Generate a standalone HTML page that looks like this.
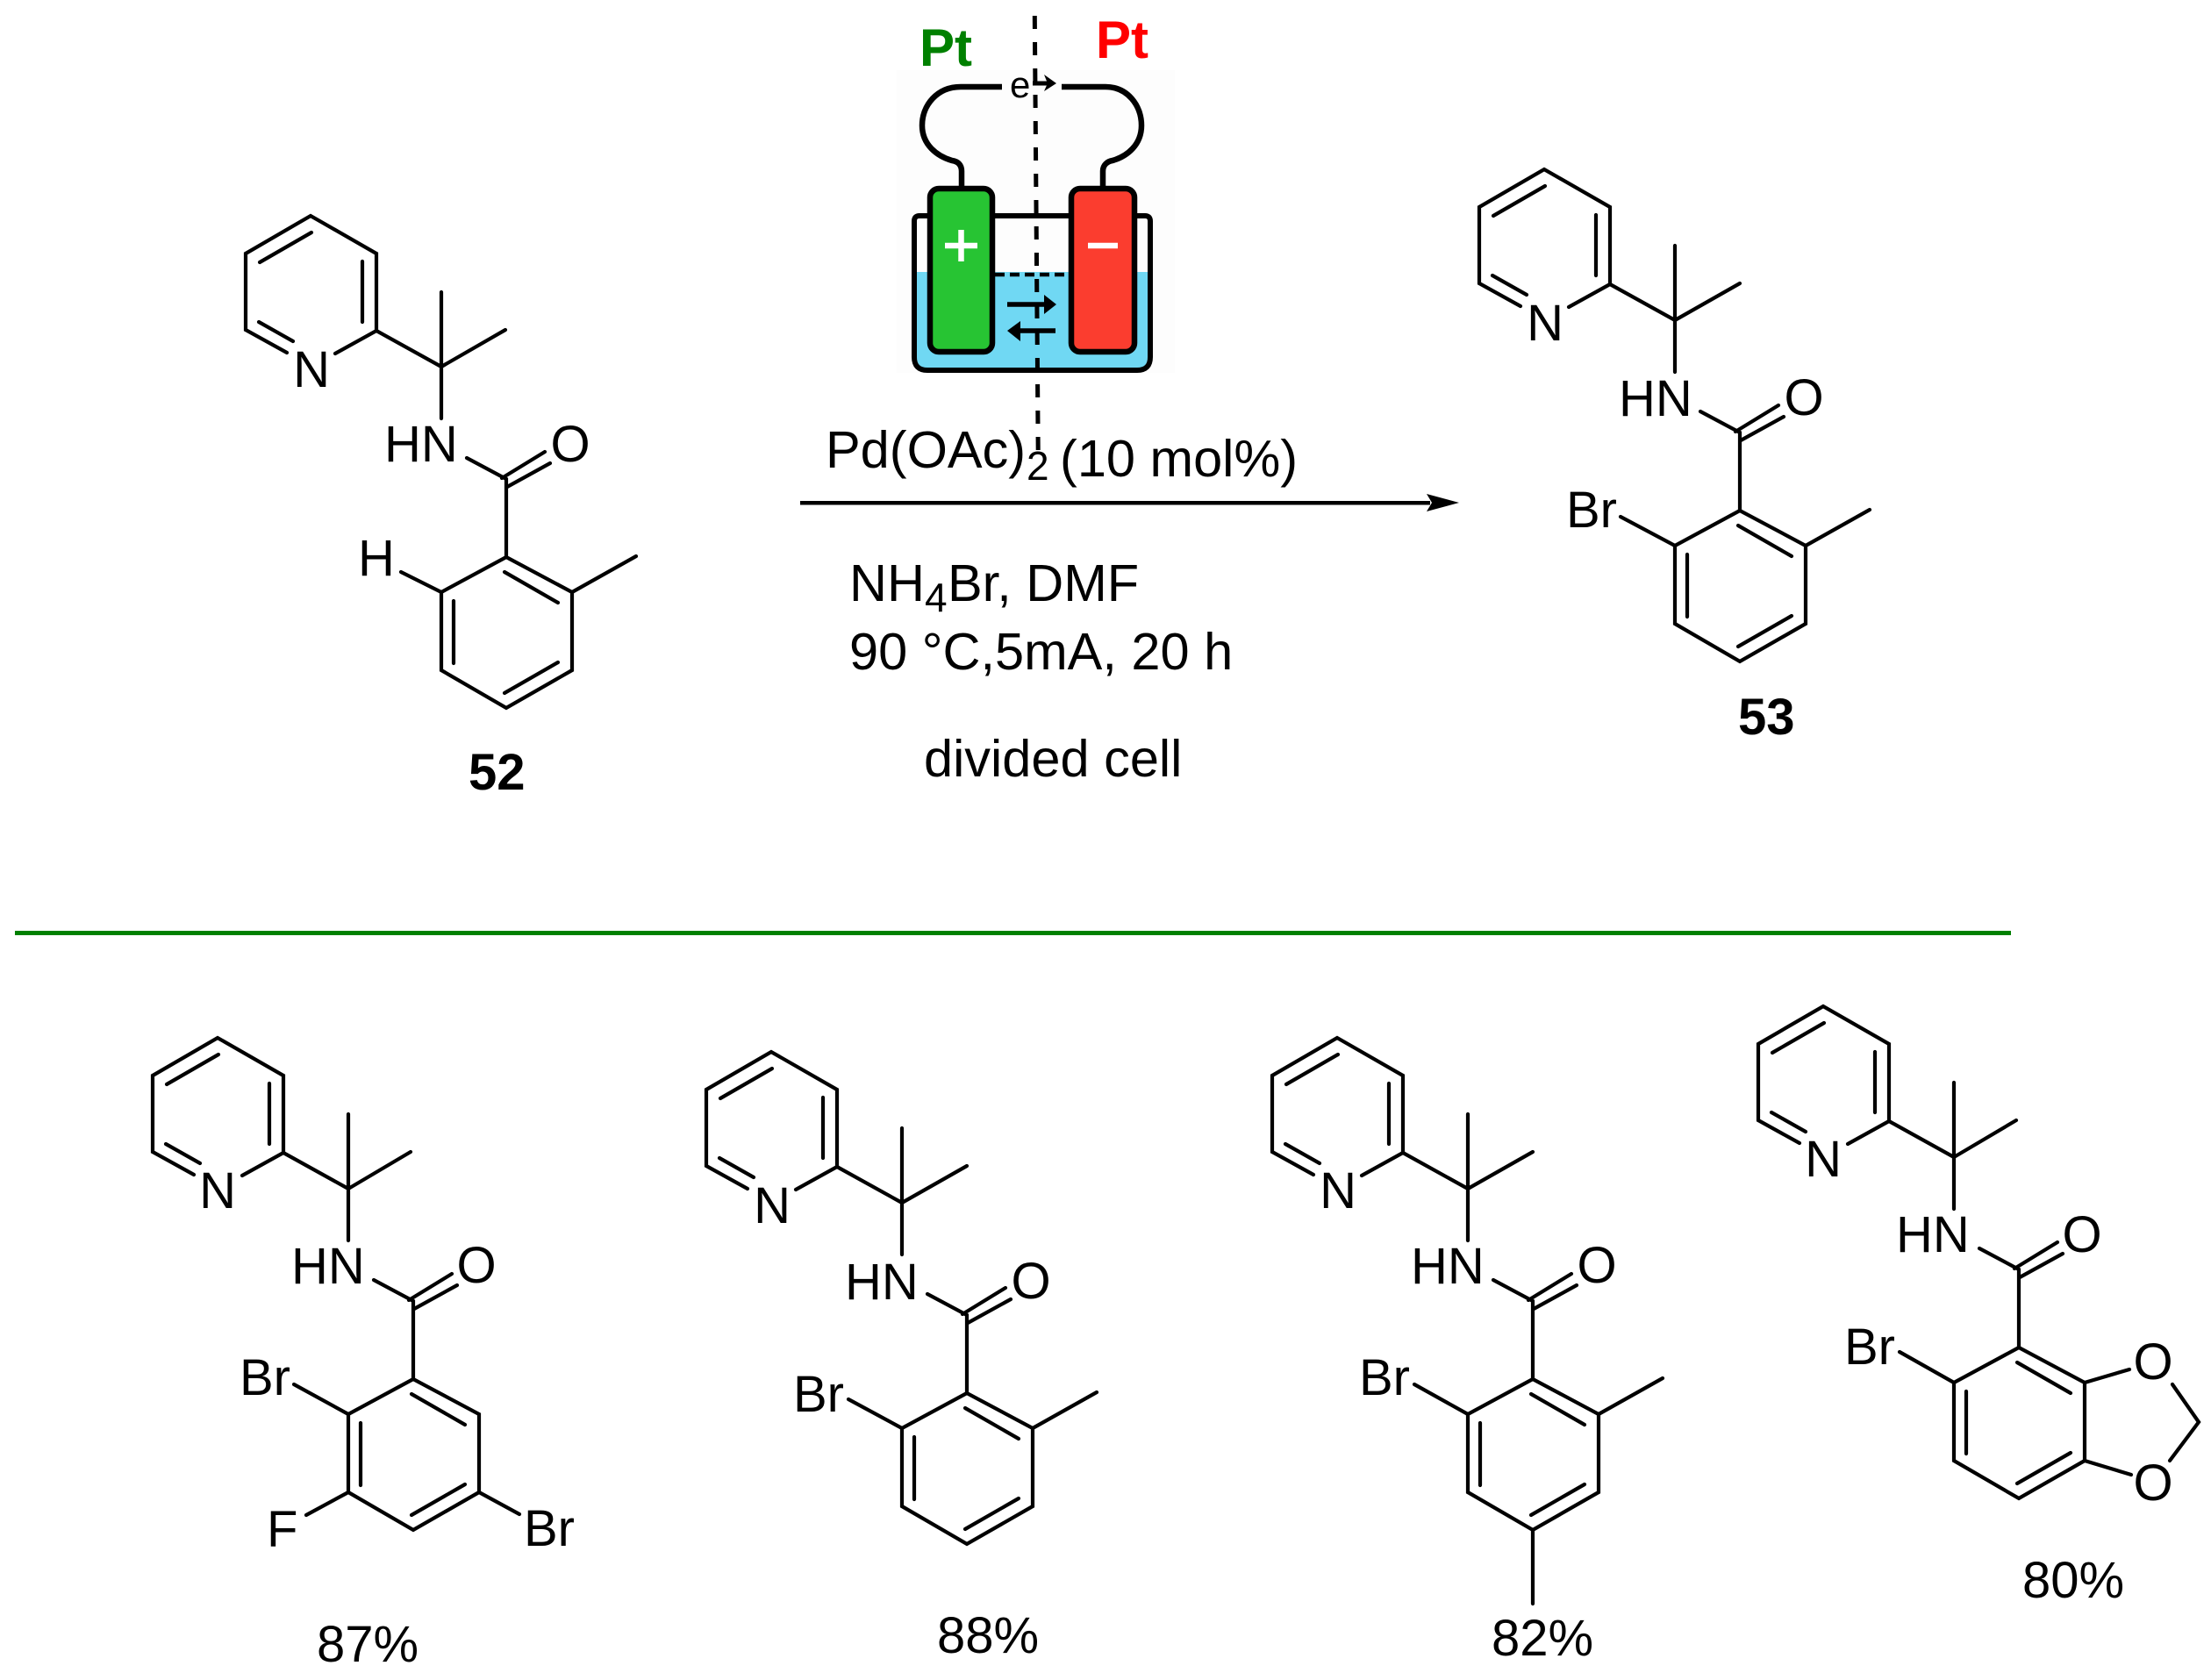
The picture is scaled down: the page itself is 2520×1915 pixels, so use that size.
<!DOCTYPE html>
<html>
<head>
<meta charset="utf-8">
<style>
html,body{margin:0;padding:0;background:#fff;width:2520px;height:1915px;overflow:hidden}
svg{display:block}
text{font-family:"Liberation Sans",sans-serif;font-size:58px;fill:#000}
.b{font-weight:bold}
.m{text-anchor:middle}
.r{font-size:59.5px}
.s{font-size:46px}
.bond{stroke:#000;stroke-width:4.2;stroke-linecap:round;stroke-linejoin:miter;fill:none}
</style>
</head>
<body>
<svg width="2520" height="1915" viewBox="0 0 2520 1915" xmlns="http://www.w3.org/2000/svg">
<defs>
<g id="core" class="bond">
  <path d="M-176 -16L-223 -42V-129L-149 -172L-74 -129V-41L-121 -15"/>
  <path d="M-208 -51L-169 -29M-90 -120V-51M-207 -119L-148 -153"/>
  <path d="M-74 -41L0 0M0 -85V59"/>
  <path d="M29 104L74 128V217M69 127L118 97M75 137L124 110"/>
  <path d="M74 217L0 257V346L74 389L149 346V257Z"/>
  <path d="M72 234L133 269M14 267V338M72 372L133 337"/>
</g>
</defs>
<rect width="2520" height="1915" fill="#fff"/>

<!-- 52 -->
<g transform="translate(503 418)">
  <use href="#core"/>
  <path class="bond" d="M0 0L73 -42M-46 234L0 257M149 257L222 216"/>
  <text class="m" x="-148" y="23">N</text>
  <text x="-65" y="108">HN</text>
  <text class="m" x="147" y="108">O</text>
  <text x="-95" y="238">H</text>
</g>
<text class="b" x="534" y="900">52</text>

<!-- 53 -->
<g transform="translate(1909 365)">
  <use href="#core"/>
  <path class="bond" d="M0 0L74 -42M-62 224L0 257M149 257L222 216"/>
  <text class="m" x="-148" y="23">N</text>
  <text x="-64" y="109">HN</text>
  <text class="m" x="147" y="108">O</text>
  <text x="-124" y="236">Br</text>
</g>
<text class="b" x="1981" y="837">53</text>

<!-- 87 -->
<g transform="translate(397 1355)">
  <use href="#core"/>
  <path class="bond" d="M0 0L71 -42M-62 223L0 257M0 346L-48 372M149 346L195 371"/>
  <text class="m" x="-149" y="22">N</text>
  <text x="-65" y="108">HN</text>
  <text class="m" x="146" y="107">O</text>
  <text x="-124" y="235">Br</text>
  <text x="-93" y="408">F</text>
  <text x="200" y="407">Br</text>
</g>
<text x="361" y="1894">87%</text>

<!-- 88 -->
<g transform="translate(1028 1371)">
  <use href="#core"/>
  <path class="bond" d="M0 0L74 -42M-61 224L0 257M149 257L222 216"/>
  <text class="m" x="-148" y="23">N</text>
  <text x="-65" y="110">HN</text>
  <text class="m" x="147" y="109">O</text>
  <text x="-124" y="238">Br</text>
</g>
<text x="1068" y="1884">88%</text>

<!-- 82 -->
<g transform="translate(1673 1355)">
  <use href="#core"/>
  <path class="bond" d="M0 0L74 -42M-61 223L0 257M149 257L222 216M74 389V473"/>
  <text class="m" x="-148" y="22">N</text>
  <text x="-65" y="108">HN</text>
  <text class="m" x="147" y="107">O</text>
  <text x="-124" y="235">Br</text>
</g>
<text x="1700" y="1887">82%</text>

<!-- 80 -->
<g transform="translate(2227 1319)">
  <use href="#core"/>
  <path class="bond" d="M0 0L71 -42M-62 222L0 257M149 257L200 242M149 346L202 362M249 259L279 302L246 346"/>
  <text class="m" x="-149" y="22">N</text>
  <text x="-66" y="108">HN</text>
  <text class="m" x="146" y="108">O</text>
  <text x="-125" y="236">Br</text>
  <text class="m" x="227" y="253">O</text>
  <text class="m" x="227" y="391">O</text>
</g>
<text x="2305" y="1821">80%</text>

<!-- separator -->
<rect x="17" y="1061" width="2275" height="5" fill="#008000"/>

<!-- reaction arrow -->
<rect x="912" y="571" width="718" height="4.5" fill="#000"/>
<path d="M1663 573L1626 563L1632 573L1626 583Z" fill="#000"/>

<!-- reagents -->
<text class="r" x="941" y="533">Pd(OAc)</text>
<text class="s" x="1170" y="547">2</text>
<text class="r" x="1208" y="543">(10 mol%)</text>
<text class="r" x="968" y="685">NH</text>
<text class="s" x="1054" y="697">4</text>
<text class="r" x="1080" y="685">Br, DMF</text>
<text class="r" x="968" y="763">90 °C,5mA, 20 h</text>
<text class="r" x="1053" y="885">divided cell</text>

<!-- cell -->
<rect x="1022" y="80" width="317" height="345" fill="#fdfdfd"/>
<path d="M1045 310H1308V407Q1308 420 1295 420H1058Q1045 420 1045 407Z" fill="#70d8f3"/>
<path d="M1060 246H1048Q1042 246 1042 252V407Q1042 422 1057 422H1296Q1311 422 1311 407V252Q1311 246 1305 246H1293M1131 246H1221" fill="none" stroke="#000" stroke-width="6"/>
<path d="M1134 313H1218" stroke="#000" stroke-width="4.5" stroke-dasharray="11 6" fill="none"/>
<rect x="1060" y="215" width="71" height="186" rx="10" fill="#27c433" stroke="#000" stroke-width="6.5"/>
<rect x="1221" y="215" width="72" height="186" rx="10" fill="#fb3d2f" stroke="#000" stroke-width="6.5"/>
<path d="M1077 280H1114M1095.5 262V298" stroke="#fff" stroke-width="6.5" fill="none"/>
<path d="M1240 280H1274" stroke="#fff" stroke-width="6.5" fill="none"/>
<path d="M1142 99H1095C1068 99 1051 120 1051 143C1051 165 1068 178 1085 183C1092 184 1096 188 1096 195V215" fill="none" stroke="#000" stroke-width="6.5"/>
<path d="M1210 99H1260C1285 99 1301 120 1301 143C1301 165 1285 178 1268 183C1262 184 1257 188 1257 195V215" fill="none" stroke="#000" stroke-width="6.5"/>
<path d="M1148 347H1195" stroke="#000" stroke-width="5.5" fill="none"/>
<path d="M1204 347L1190 336V358Z" fill="#000"/>
<path d="M1203 377H1158" stroke="#000" stroke-width="5.5" fill="none"/>
<path d="M1148 377L1163 366V389Z" fill="#000"/>
<text style="font-size:42px" x="1151" y="111">e</text>
<path d="M1177 95H1195" stroke="#000" stroke-width="5" fill="none"/>
<path d="M1204 95L1190 85L1194 95L1190 104Z" fill="#000"/>
<path d="M1179.3 18L1183.2 513" stroke="#000" stroke-width="5" stroke-dasharray="15 15" stroke-linecap="butt" fill="none"/>
<text class="b" style="fill:#008000;font-size:60px" x="1048" y="75">Pt</text>
<text class="b" style="fill:#ff0000;font-size:60px" x="1249" y="66">Pt</text>
</svg>
</body>
</html>
